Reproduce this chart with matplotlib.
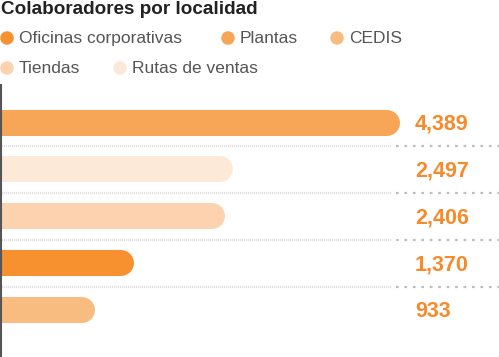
import matplotlib
matplotlib.use("Agg")
import matplotlib.pyplot as plt
import matplotlib.transforms as mtransforms

plt.rcParams['font.family'] = ['Liberation Sans', 'DejaVu Sans']

# Data
title = "Colaboradores por localidad"
legend_labels = ["Oficinas corporativas", "Plantas", "CEDIS", "Tiendas", "Rutas de ventas"]
legend_colors = ["#F7902F", "#F7A556", "#F9BC80", "#FCD3AE", "#FDE9D7"]
bar_categories = ["Plantas", "Rutas de ventas", "Tiendas", "Oficinas corporativas", "CEDIS"]
bar_values = [4389, 2497, 2406, 1370, 933]
value_labels = ["4,389", "2,497", "2,406", "1,370", "933"]

W, H = 499, 357
fig = plt.figure(figsize=(W / 100, H / 100), dpi=100)

# bar axes
top_px = 85
ax = fig.add_axes([0, 0, 1, (H - top_px) / H])
ax.set_xlim(0, 5660)
ax.set_ylim(5.0, -0.8)
ax.axis('off')

color_map = dict(zip(legend_labels, legend_colors))
trans = mtransforms.blended_transform_factory(ax.transAxes, ax.transData)
for i, (cat, v, lab) in enumerate(zip(bar_categories, bar_values, value_labels)):
    ax.plot([-200, v], [i, i], color=color_map[cat], lw=26 * 72 / 100,
            solid_capstyle='round', clip_on=True)
    ax.text(415 / W, i + 0.04, lab, transform=trans, ha='left', va='center',
            fontsize=15.5, fontweight='bold', color="#F78A2A")
    if i < len(bar_values) - 1:
        y = i + 0.5
        ax.plot([0, 392 / W], [y, y], transform=trans, color="#e0e0e0", lw=1.6,
                linestyle=(0, (0.5, 0.4)))
        ax.plot([396 / W, 1], [y, y], transform=trans, color="#bdbdbd", lw=1.6,
                linestyle=(0, (1.2, 2.6)))

# overlay in pixel coords
ov = fig.add_axes([0, 0, 1, 1], zorder=5)
ov.set_xlim(0, W)
ov.set_ylim(H, 0)
ov.axis('off')
ov.patch.set_alpha(0)

# vertical axis line
ov.plot([0.8, 0.8], [85, H], color="#555555", lw=1.5)

# title
ov.text(1, 10, title, fontsize=13.6, fontweight='bold', color="#222222",
        ha='left', va='center')

# legend
leg_pos = [(7, 38), (228, 38), (337, 38), (7, 68), (120, 68)]
for (x, y), lab, col in zip(leg_pos, legend_labels, legend_colors):
    ov.scatter([x], [y], s=(13.5 * 72 / 100) ** 2, color=col, edgecolors='none')
    ov.text(x + 12, y + 0.5, lab, fontsize=12.5, color="#555555", ha='left', va='center')

fig.savefig("out.png", dpi=100)
